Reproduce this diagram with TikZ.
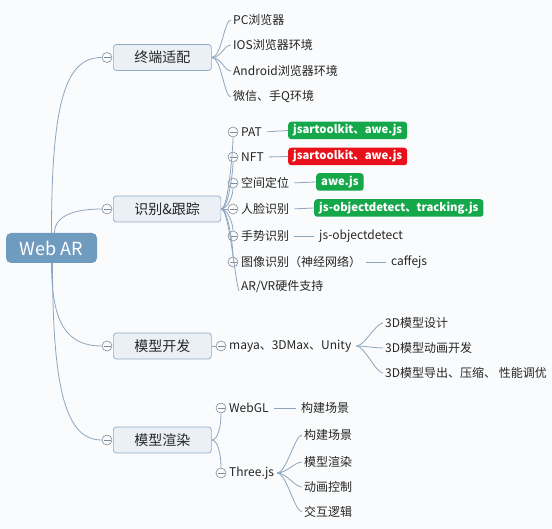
\documentclass[tikz,border=0pt]{standalone}
\usepackage{fontspec}
\setmainfont{Noto Sans CJK SC}
\definecolor{bgc}{HTML}{FAFBFC}
\definecolor{lnc}{HTML}{8DA6BE}
\definecolor{rootc}{HTML}{6F9BBF}
\definecolor{l1fill}{HTML}{EAF0F6}
\definecolor{l1border}{HTML}{8FAAC4}
\definecolor{cmc}{HTML}{7F8B97}
\definecolor{gc}{HTML}{15A84B}
\definecolor{rc}{HTML}{E8101A}
\definecolor{txc}{HTML}{262626}
\begin{document}
\begin{tikzpicture}[x=1pt,y=-1pt,
  every node/.style={font=\fontsize{12}{14}\selectfont, text=txc},
  ln/.style={draw=lnc, line width=0.8pt},
  rootbox/.style={fill=rootc, rounded corners=5pt, text=white, minimum width=91pt, minimum height=30pt, inner sep=0pt, font=\fontsize{18}{20}\selectfont},
  l1box/.style={draw=l1border, fill=l1fill, rounded corners=3pt, line width=0.7pt, inner xsep=21pt, inner ysep=0pt, minimum height=26pt, anchor=west, font=\fontsize{14}{16}\selectfont},
  colmark/.style={circle, draw=cmc, fill=bgc, minimum size=10pt, inner sep=0pt, line width=0.6pt,
    path picture={\draw[cmc, line width=0.6pt] ([xshift=-3.5pt]path picture bounding box.center) -- ([xshift=3.5pt]path picture bounding box.center);}},
  txt/.style={anchor=west, inner sep=2pt},
  vbox/.style={anchor=west, rounded corners=3pt, text=white, inner xsep=5pt, inner ysep=0pt, minimum height=17.5pt, font=\fontsize{11.3}{13}\selectfont\bfseries},
  gbox/.style={vbox, fill=gc},
  rbox/.style={vbox, fill=rc},
  dl/.style={ln, shorten <=3pt, shorten >=3pt}
]
\fill[bgc] (0,0) rectangle (552,529);
\useasboundingbox (0,0) rectangle (552,529);

% root
\node[rootbox] (root) at (51.5,248) {Web AR};

% level 1
\node[l1box] (b1) at (113,57.5) {终端适配};
\node[l1box] (b2) at (113,209) {识别\&跟踪};
\node[l1box] (b3) at (113,346) {模型开发};
\node[l1box] (b4) at (113,440) {模型渲染};
\node[colmark] (k1) at (107,57.5) {};
\node[colmark] (k2) at (107,209) {};
\node[colmark] (k3) at (107,346) {};
\node[colmark] (k4) at (107,440) {};

\draw[ln] (root.north) .. controls +(0,-135) and +(-35,0) .. (k1.west);
\draw[ln] ([xshift=3pt]root.north) .. controls +(0,-18) and +(-25,0) .. (k2.west);
\draw[ln] (root.south) .. controls +(0,60) and +(-35,0) .. (k3.west);
\draw[ln] ([xshift=1pt]root.south) .. controls +(0,130) and +(-35,0) .. (k4.west);

% terminal adaptation
\node[txt] (a1) at (231,20) {PC浏览器};
\node[txt] (a2) at (231,45) {IOS浏览器环境};
\node[txt] (a3) at (231,71) {Android浏览器环境};
\node[txt] (a4) at (231,97) {微信、手Q环境};
\foreach \n in {a1,a2,a3,a4}
  \draw[ln] (b1.east) .. controls +(10,0) and +(-7,0) .. (\n.west);

% recognition & tracking
\node[colmark] (p1) at (233,132) {};
\node[colmark] (p2) at (233,157) {};
\node[colmark] (p3) at (233,183) {};
\node[colmark] (p4) at (233,209) {};
\node[colmark] (p5) at (233,236) {};
\node[colmark] (p6) at (233,262) {};
\node[txt] (t1) at (239,132) {PAT};
\node[txt] (t2) at (239,157) {NFT};
\node[txt] (t3) at (239,183) {空间定位};
\node[txt] (t4) at (239,209) {人脸识别};
\node[txt] (t5) at (239,236) {手势识别};
\node[txt] (t6) at (239,262) {图像识别（神经网络）};
\node[txt] (t7) at (239,287) {AR/VR硬件支持};
\draw[ln] (b2.east) .. controls +(7,0) and +(0,12) .. (p1.south);
\draw[ln] (b2.east) .. controls +(7,0) and +(0,10) .. (p2.south);
\draw[ln] (b2.east) .. controls +(6,0) and +(0,8) .. (p3.south);
\draw[ln] (b2.east) -- (p4.west);
\draw[ln] (b2.east) .. controls +(6,0) and +(0,-8) .. (p5.north);
\draw[ln] (b2.east) .. controls +(7,0) and +(0,-10) .. (p6.north);
\draw[ln] (b2.east) .. controls +(8,0) and +(-4,-10) .. ([yshift=-4pt]t7.west);

\node[gbox] (v1) at (288,130.5) {jsartoolkit、awe.js};
\node[rbox] (v2) at (288,156.5) {jsartoolkit、awe.js};
\node[gbox] (v3) at (316,182) {awe.js};
\node[gbox] (v4) at (314,208) {js-objectdetect、tracking.js};
\node[txt] (v5) at (317,236) {js-objectdetect};
\node[txt] (v6) at (389,262) {caffejs};
\draw[ln, shorten <=3pt] (t1.east) -- (v1.west);
\draw[ln, shorten <=3pt] (t2.east) -- (v2.west);
\draw[ln, shorten <=3pt] (t3.east) -- (v3.west);
\draw[ln, shorten <=3pt] (t4.east) -- (v4.west);
\draw[dl] (t5.east) -- (v5.west);
\draw[dl] (t6.east) -- (v6.west);

% model development
\node[colmark] (m1) at (221,346) {};
\node[txt] (mt) at (227,346) {maya、3DMax、Unity};
\draw[ln] (b3.east) -- (m1.west);
\node[txt] (d1) at (383,323) {3D模型设计};
\node[txt] (d2) at (383,348) {3D模型动画开发};
\node[txt] (d3) at (383,373) {3D模型导出、压缩、 性能调优};
\foreach \n in {d1,d2,d3}
  \draw[ln] ([xshift=3pt]mt.east) .. controls +(8,0) and +(-7,0) .. (\n.west);

% model rendering
\node[colmark] (w1) at (221,408) {};
\node[colmark] (w2) at (221,473) {};
\node[txt] (wt1) at (227,408) {WebGL};
\node[txt] (wt2) at (227,473) {Three.js};
\draw[ln] (b4.east) .. controls +(6,0) and +(0,14) .. (w1.south);
\draw[ln] (b4.east) .. controls +(6,0) and +(0,-14) .. (w2.north);
\node[txt] (g1) at (299,408) {构建场景};
\draw[dl] (wt1.east) -- (g1.west);
\node[txt] (h1) at (302,435) {构建场景};
\node[txt] (h2) at (302,462) {模型渲染};
\node[txt] (h3) at (302,487) {动画控制};
\node[txt] (h4) at (302,512) {交互逻辑};
\foreach \n in {h1,h2,h3,h4}
  \draw[ln] ([xshift=1pt]wt2.east) .. controls +(9,0) and +(-7,0) .. (\n.west);
\end{tikzpicture}
\end{document}
